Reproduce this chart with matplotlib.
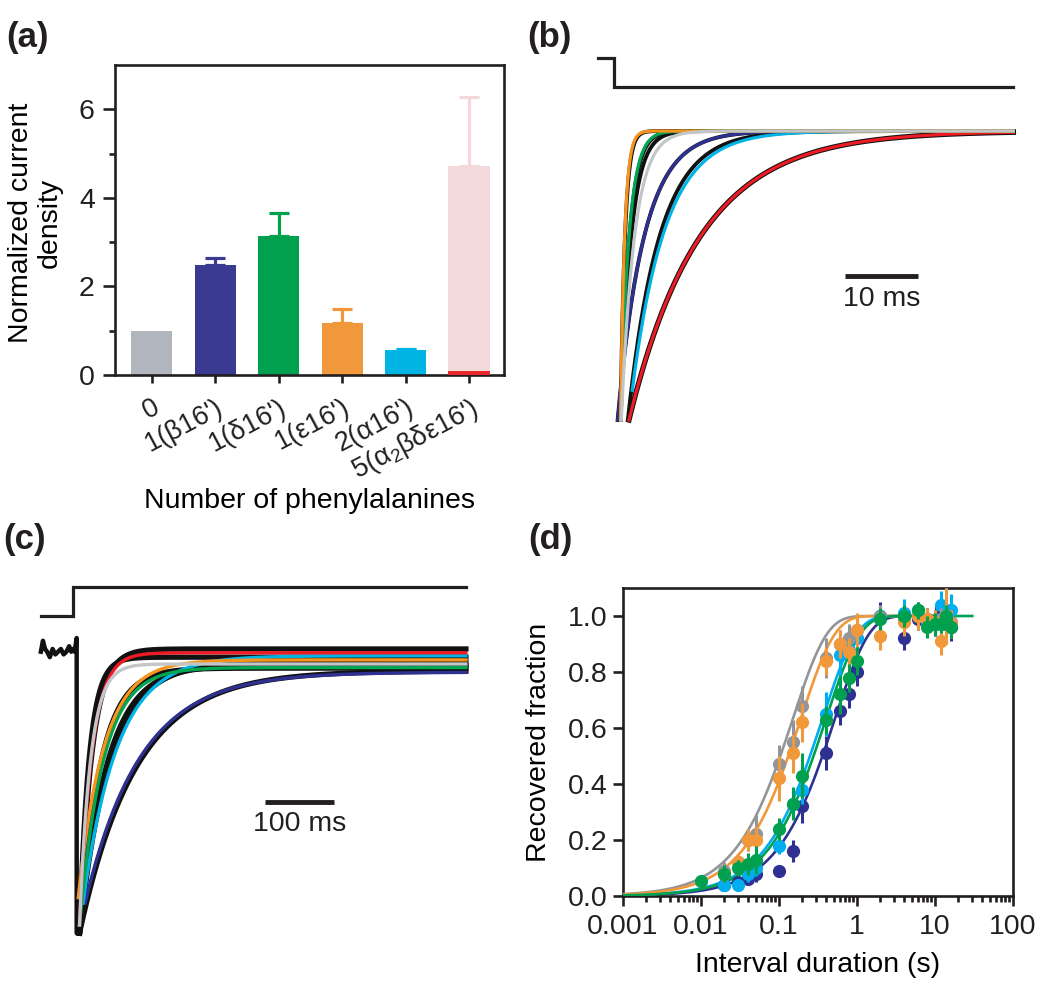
import numpy as np
import matplotlib
matplotlib.use("Agg")
import matplotlib.pyplot as plt
import matplotlib.transforms as mtransforms
from matplotlib.ticker import FixedLocator, LogLocator, NullFormatter, FuncFormatter

plt.rcParams['font.family'] = ['Liberation Sans', 'DejaVu Sans']
plt.rcParams['mathtext.fontset'] = 'custom'
plt.rcParams['mathtext.rm'] = 'Liberation Sans'
plt.rcParams['text.color'] = '#231F20'
plt.rcParams['axes.edgecolor'] = '#231F20'
plt.rcParams['xtick.color'] = '#231F20'
plt.rcParams['ytick.color'] = '#231F20'

# ---------------- data: panel (a) ----------------
a_labels = ["0", "1(β16')", "1(δ16')", "1(ε16')", "2(α16')", "5(α$_\\mathregular{2}$βδε16')"]
a_values = [1.0, 2.48, 3.15, 1.17, 0.56, 4.72]
a_errors = [0.0, 0.17, 0.51, 0.31, 0.03, 1.55]
a_colors = ['#B1B6BE', '#3A3A93', '#00A04F', '#F0983A', '#00B4E4', '#F3D9DA']
a_inset_value = 0.10          # red bar overlaid on last bar
a_inset_color = '#E8282A'

# ---------------- data: panel (b) (times in ms, current normalised) ----------------
b_names = ['red', 'cyan', 'blue', 'green', 'orange', 'gray']
b_colors = ['#ED1C24', '#00B5E6', '#2E3192', '#00A651', '#F7941D', '#C3C6C9']
b_tau_fit = [9.7, 4.6, 3.6, 1.15, 0.56, 1.8]
b_t0 = [2.05, 2.0, 0.5, 0.9, 0.9, 1.0]
b_tstart = [2.05, 2.5, 0.5, 0.9, 0.9, 1.0]
b_tau_data = [9.7, 4.3, 3.6, 1.2, 0.6, 1.45]
b_t0_data = [2.05, 1.9, 0.5, 0.9, 0.9, 0.9]
b_end = 54.7
b_stim_t = [-2.2, 0.0, 0.0, 54.7]
b_stim_v = [0.253, 0.253, 0.152, 0.152]
b_scalebar_ms = 10

# ---------------- data: panel (c) ----------------
c_colors = ['#2E3192', '#00B5E6', '#00A651', '#F7941D', '#ED1C24', '#C3C6C9']
c_tau_fit = [80, 50, 34, 37, 18, 16]
c_t0 = [17, 14, 9, 7.2, 9, 9]
c_y0 = [-0.92, -0.92, -1.0, -0.9, -1.0, -1.0]
c_ss = [-0.075, -0.015, -0.058, -0.03, -0.004, -0.045]
c_tau_data = [82, 44, 40, 30, 18, 14]
c_ss_data = [-0.07, -0.04, -0.05, -0.06, 0.01, -0.02]
c_end = 569
c_stim_t = [-47, 0, 0, 569]
c_stim_v = [0.132, 0.132, 0.238, 0.238]
c_pre_t = [-47, -44, -41, -38, -34, -30, -26, -22, -18, -14, -10, -6, -3, 0, 2, 4.9, 4.9, 9]
c_pre_v = [0.0, 0.04, 0.01, 0.0, -0.02, 0.01, -0.01, 0.0, 0.01, -0.01, 0.0, 0.02, 0.0, 0.01, 0.0, 0.05, -1.03, -1.03]
c_scalebar_ms = 100

# ---------------- data: panel (d) ----------------
d_x = [0.02, 0.03, 0.04, 0.05, 0.1, 0.15, 0.2, 0.4, 0.6, 0.8, 1, 2, 4, 6, 8, 10, 12, 14, 16]
d_gray = [0.09, 0.12, 0.20, 0.22, 0.47, 0.55, 0.68, 0.85, 0.90, 0.92, 0.95, 1.00, 0.99, 1.00, 0.99, 0.98, 0.99, 1.00, 0.98]
d_gray_err = [0.03, 0.03, 0.04, 0.07, 0.07, 0.08, 0.07, 0.07, 0.05, 0.05, 0.04, 0.04, 0.04, 0.04, 0.04, 0.04, 0.04, 0.04, 0.04]
d_orange = [0.08, 0.12, 0.20, 0.20, 0.42, 0.51, 0.62, 0.84, 0.90, 0.87, 0.95, 0.93, 0.98, 1.00, 0.99, 0.98, 0.91, 1.00, 0.97]
d_orange_err = [0.03, 0.03, 0.04, 0.05, 0.08, 0.07, 0.07, 0.05, 0.05, 0.05, 0.06, 0.05, 0.05, 0.05, 0.04, 0.04, 0.05, 0.10, 0.05]
d_blue = [0.04, 0.05, 0.06, 0.08, 0.09, 0.16, 0.32, 0.51, 0.66, 0.72, 0.80, 1.00, 0.92, 0.99, 0.99, 0.97, 1.03, 0.97, 0.96]
d_blue_err = [0.02, 0.02, 0.02, 0.03, 0.02, 0.04, 0.06, 0.06, 0.05, 0.05, 0.05, 0.05, 0.04, 0.04, 0.04, 0.04, 0.03, 0.06, 0.05]
d_cyan = [0.04, 0.04, 0.08, 0.10, 0.18, 0.33, 0.38, 0.65, 0.86, 0.88, 0.92, 1.00, 1.01, 1.02, 0.98, 0.98, 1.04, 1.02, 1.02]
d_cyan_err = [0.02, 0.02, 0.03, 0.03, 0.03, 0.05, 0.05, 0.08, 0.07, 0.06, 0.06, 0.04, 0.05, 0.03, 0.04, 0.04, 0.05, 0.08, 0.06]
d_green_x = [0.01] + d_x
d_green = [0.055, 0.08, 0.10, 0.115, 0.13, 0.24, 0.33, 0.43, 0.63, 0.72, 0.78, 0.84, 0.99, 1.00, 1.02, 0.96, 0.97, 0.97, 1.00, 0.96]
d_green_err = [0.01, 0.03, 0.03, 0.04, 0.05, 0.04, 0.06, 0.08, 0.05, 0.07, 0.05, 0.05, 0.04, 0.04, 0.03, 0.04, 0.04, 0.03, 0.04, 0.04]
d_tau = {'blue': 0.52, 'cyan': 0.36, 'gray': 0.15, 'orange': 0.19, 'green': 0.40}
d_fit_end = {'blue': 16, 'cyan': 16, 'gray': 16, 'orange': 16, 'green': 30}
d_col = {'blue': '#2E3192', 'cyan': '#00AEEF', 'gray': '#939598', 'orange': '#F0983A', 'green': '#00A04F'}
d_xticks = [0.001, 0.01, 0.1, 1, 10, 100]
d_xticklabels = ['0.001', '0.01', '0.1', '1', '10', '100']

W, H = 1050, 983
fig = plt.figure(figsize=(10.5, 9.83), dpi=100)


def px_axes(x0, y0, x1, y1):
    return fig.add_axes([x0 / W, 1 - y1 / H, (x1 - x0) / W, (y1 - y0) / H])


FS = 20.5
SPW = 1.9

# ================= panel (a) =================
axA = px_axes(115, 65, 504, 375)
xpos = np.arange(len(a_values))
for i in range(len(a_values)):
    if a_errors[i] > 0:
        axA.errorbar(xpos[i], a_values[i], yerr=[[0], [a_errors[i]]], fmt='none',
                     ecolor=a_colors[i], elinewidth=2.3, capsize=7.5, capthick=2.3, zorder=1)
axA.bar(xpos, a_values, width=0.65, color=a_colors, zorder=2)
axA.bar(xpos[-1], a_inset_value, width=0.65, color=a_inset_color, zorder=3)
axA.set_xlim(-0.58, 5.55)
axA.set_ylim(0, 7)
axA.set_yticks([0, 2, 4, 6])
axA.yaxis.set_minor_locator(FixedLocator([1, 3, 5]))
axA.set_xticks(xpos)
axA.set_xticklabels(a_labels, rotation=28, ha='right', va='top', rotation_mode='anchor',
                    fontsize=19.5)
shift = mtransforms.ScaledTranslation(4 / 100, 0, fig.dpi_scale_trans)
for lab in axA.get_xticklabels():
    lab.set_transform(lab.get_transform() + shift)
axA.tick_params(axis='y', which='major', direction='out', length=8.5, width=SPW, labelsize=FS, pad=6)
axA.tick_params(axis='x', which='major', direction='out', length=6, width=SPW, pad=8)
axA.tick_params(axis='y', which='minor', direction='out', length=4, width=SPW)
for s in axA.spines.values():
    s.set_linewidth(SPW)
axA.set_ylabel('Normalized current\ndensity', fontsize=FS, linespacing=1.15, va='center')
axA.yaxis.set_label_coords(-0.205, 0.49)
axA.set_xlabel('Number of phenylalanines', fontsize=FS, va='center')
axA.xaxis.set_label_coords(0.5, -0.405)

# ================= panel (b) =================
bx0, by0 = 614, 131
bsx, bsy = 7.3, 289
axB = px_axes(590, 45, 1020, 435)
axB.set_xlim((590 - bx0) / bsx, (1020 - bx0) / bsx)
axB.set_ylim((by0 - 435) / bsy, (by0 - 45) / bsy)
axB.axis('off')
axB.plot(b_stim_t, b_stim_v, color='#231F20', lw=2.3, solid_joinstyle='miter')
for i in range(len(b_names)):
    t = np.linspace(b_t0_data[i], b_end, 1500)
    lw = 3.8 if b_names[i] == 'red' else 2.8
    axB.plot(t, -np.exp(-(t - b_t0_data[i]) / b_tau_data[i]), color='#111111', lw=lw, zorder=2)
for i in range(len(b_names)):
    t = np.linspace(b_tstart[i], b_end, 1500)
    axB.plot(t, -np.exp(-(t - b_t0[i]) / b_tau_fit[i]), color=b_colors[i], lw=2.3, zorder=3)
bar_start = (845 - bx0) / bsx
axB.plot([bar_start, bar_start + b_scalebar_ms], [-0.502, -0.502], color='#231F20', lw=3.5,
         solid_capstyle='butt')
axB.text(bar_start + b_scalebar_ms / 2, -0.58, '%d ms' % b_scalebar_ms, ha='center', va='center',
         fontsize=FS)

# ================= panel (c) =================
cx0, cy0 = 73.3, 651.7
csx, csy = 0.69, 273.3
axC = px_axes(30, 570, 480, 945)
axC.set_xlim((30 - cx0) / csx, (480 - cx0) / csx)
axC.set_ylim((cy0 - 945) / csy, (cy0 - 570) / csy)
axC.axis('off')
axC.plot(c_stim_t, c_stim_v, color='#231F20', lw=2.3, solid_joinstyle='miter')
axC.plot(c_pre_t, c_pre_v, color='#111111', lw=3.2, zorder=2)
for i in range(len(c_colors)):
    t = np.linspace(9, c_end, 1500)
    y = c_ss_data[i] + (-1.03 - c_ss_data[i]) * np.exp(-(t - 9) / c_tau_data[i])
    axC.plot(t, y, color='#111111', lw=3.8, zorder=2)
for i in range(len(c_colors)):
    t = np.linspace(c_t0[i], c_end, 1500)
    y = c_ss[i] + (c_y0[i] - c_ss[i]) * np.exp(-(t - c_t0[i]) / c_tau_fit[i])
    axC.plot(t, y, color=c_colors[i], lw=2.4, zorder=3)
cbar_start = (265 - cx0) / csx
axC.plot([cbar_start, cbar_start + c_scalebar_ms], [-0.551, -0.551], color='#231F20', lw=3.5,
         solid_capstyle='butt')
axC.text(cbar_start + c_scalebar_ms / 2, -0.63, '%d ms' % c_scalebar_ms, ha='center', va='center',
         fontsize=FS)

# ================= panel (d) =================
axD = px_axes(623, 588, 1013, 896)
axD.set_xscale('log')
axD.set_xlim(1e-3, 1e2)
axD.set_ylim(0, 1.1)
series = [('blue', d_x, d_blue, d_blue_err), ('cyan', d_x, d_cyan, d_cyan_err),
          ('gray', d_x, d_gray, d_gray_err), ('orange', d_x, d_orange, d_orange_err),
          ('green', d_green_x, d_green, d_green_err)]
for k, (name, xs, ys, es) in enumerate(series):
    tt = np.logspace(-3, np.log10(d_fit_end[name]), 400)
    axD.plot(tt, 1 - np.exp(-tt / d_tau[name]), color=d_col[name], lw=1.9, zorder=2 + k)
for k, (name, xs, ys, es) in enumerate(series):
    axD.errorbar(xs, ys, yerr=es, fmt='o', color=d_col[name], ms=9.5, mew=0,
                 elinewidth=2.2, capsize=4.5, capthick=2.2, zorder=10 + k, clip_on=False)
axD.set_yticks([0.0, 0.2, 0.4, 0.6, 0.8, 1.0])
axD.yaxis.set_major_formatter(FuncFormatter(lambda v, p: '%.1f' % v))
axD.xaxis.set_major_locator(FixedLocator(d_xticks))
axD.set_xticklabels(d_xticklabels)
axD.xaxis.set_minor_locator(LogLocator(base=10, subs=np.arange(2, 10), numticks=20))
axD.xaxis.set_minor_formatter(NullFormatter())
axD.tick_params(axis='both', which='major', direction='out', length=7, width=SPW, labelsize=FS, pad=4)
axD.tick_params(axis='x', which='major', pad=6)
axD.tick_params(axis='x', which='minor', direction='out', length=4.5, width=SPW)
for s in axD.spines.values():
    s.set_linewidth(SPW)
axD.set_ylabel('Recovered fraction', fontsize=FS, va='center')
axD.yaxis.set_label_coords(-0.215, 0.5)
axD.set_xlabel('Interval duration (s)', fontsize=FS, va='center')
axD.xaxis.set_label_coords(0.5, -0.225)

# ================= panel labels =================
for lab, x, y in [('(a)', 27, 37), ('(b)', 549, 37), ('(c)', 25, 540), ('(d)', 550, 540)]:
    fig.text(x / W, 1 - y / H, lab, fontsize=25, fontweight='bold', ha='center', va='center')

fig.savefig('out.png', dpi=100)
